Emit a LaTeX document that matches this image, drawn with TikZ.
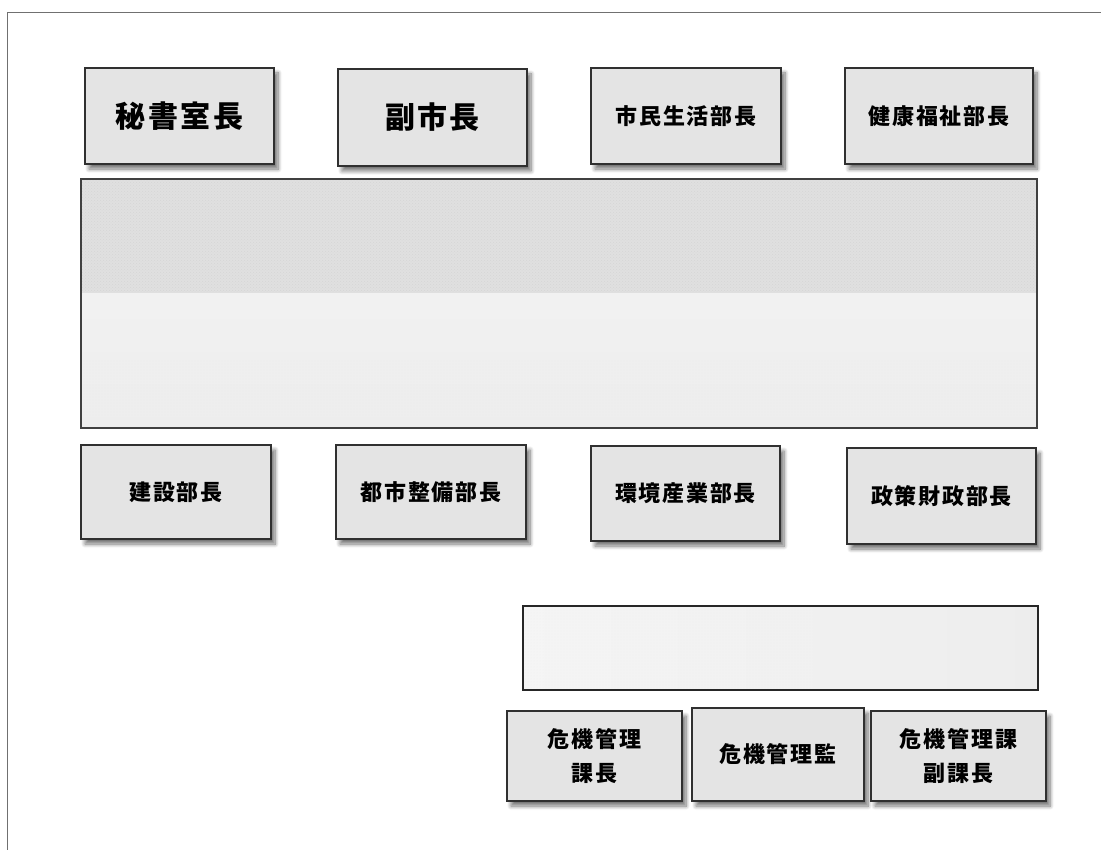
\documentclass[tikz,border=0pt]{standalone}
\usepackage{fontspec}
\newfontfamily\jp[LetterSpace=8]{Noto Sans CJK JP}
\usetikzlibrary{shadows.blur,patterns}
\definecolor{boxfill}{HTML}{E4E4E4}
\definecolor{boxline}{HTML}{303030}
\definecolor{panelline}{HTML}{404040}
\definecolor{paneltop}{HTML}{E0E0E0}
\definecolor{framecol}{HTML}{707070}
\tikzset{
  rolebox/.style={draw=boxline, line width=1.3pt, fill=boxfill, inner sep=0pt, align=center,
    blur shadow={shadow xshift=4pt, shadow yshift=-5pt, shadow blur steps=8, shadow blur radius=4pt, shadow opacity=55},
    font=\jp\bfseries\fontsize{22}{34}\selectfont},
  bigrole/.style={rolebox, font=\jp\bfseries\fontsize{30}{34}\selectfont},
  panel/.style={draw=panelline, line width=1.4pt, inner sep=0pt},
}
\begin{document}
\begin{tikzpicture}[x=1pt,y=-1pt]
\useasboundingbox (0,0) rectangle (1101,850);
\coordinate (fb) at (7,850);
\coordinate (fc) at (7,12);
\coordinate (fr) at (1101,12);
\draw[framecol, line width=0.9pt] (fb) -- (fc) -- (fr);

% top row
\node[bigrole, minimum width=189pt, minimum height=96pt] (hisho) at (179.5,116) {秘書室長};
\node[bigrole, minimum width=189pt, minimum height=97pt] (fuku) at (432.5,117.5) {副市長};
\node[rolebox, minimum width=190pt, minimum height=96pt] (shimin) at (686,116) {市民生活部長};
\node[rolebox, minimum width=188pt, minimum height=96pt] (kenko) at (939,116) {健康福祉部長};

% big panel
\node[panel, minimum width=956pt, minimum height=249pt,
  top color=white!96!black, bottom color=white!93!black,
  path picture={
    \fill[paneltop] (path picture bounding box.north west) rectangle ([yshift=-114pt]path picture bounding box.north east);
    \fill[pattern=crosshatch dots, pattern color=black!16] (path picture bounding box.north west) rectangle ([yshift=-114pt]path picture bounding box.north east);
    \fill[pattern=dots, pattern color=black!7] ([yshift=-180pt]path picture bounding box.north west) rectangle (path picture bounding box.south east);
  }] (bigpanel) at (559,303.5) {};

% second row
\node[rolebox, minimum width=190pt, minimum height=94pt] (kensetsu) at (176,492) {建設部長};
\node[rolebox, minimum width=190pt, minimum height=94pt] (toshi) at (431,492) {都市整備部長};
\node[rolebox, minimum width=189pt, minimum height=95pt] (kankyo) at (685.5,493.5) {環境産業部長};
\node[rolebox, minimum width=189pt, minimum height=96pt] (seisaku) at (941.5,496) {政策財政部長};

% lower panel
\node[panel, draw=black!85, minimum width=515pt, minimum height=84pt,
  left color=white!96!black, right color=white!93!black,
  path picture={
    \fill[pattern=dots, pattern color=black!6] (path picture bounding box.north west) rectangle (path picture bounding box.south east);
  }] (lowpanel) at (780.5,648) {};

% bottom row
\node[rolebox, minimum width=175pt, minimum height=90pt] (kiki1) at (594.5,756) {危機管理\\課長};
\node[rolebox, minimum width=172pt, minimum height=93pt] (kiki2) at (778,754.5) {危機管理監};
\node[rolebox, minimum width=175pt, minimum height=90pt] (kiki3) at (958.5,756) {危機管理課\\副課長};
\end{tikzpicture}
\end{document}
